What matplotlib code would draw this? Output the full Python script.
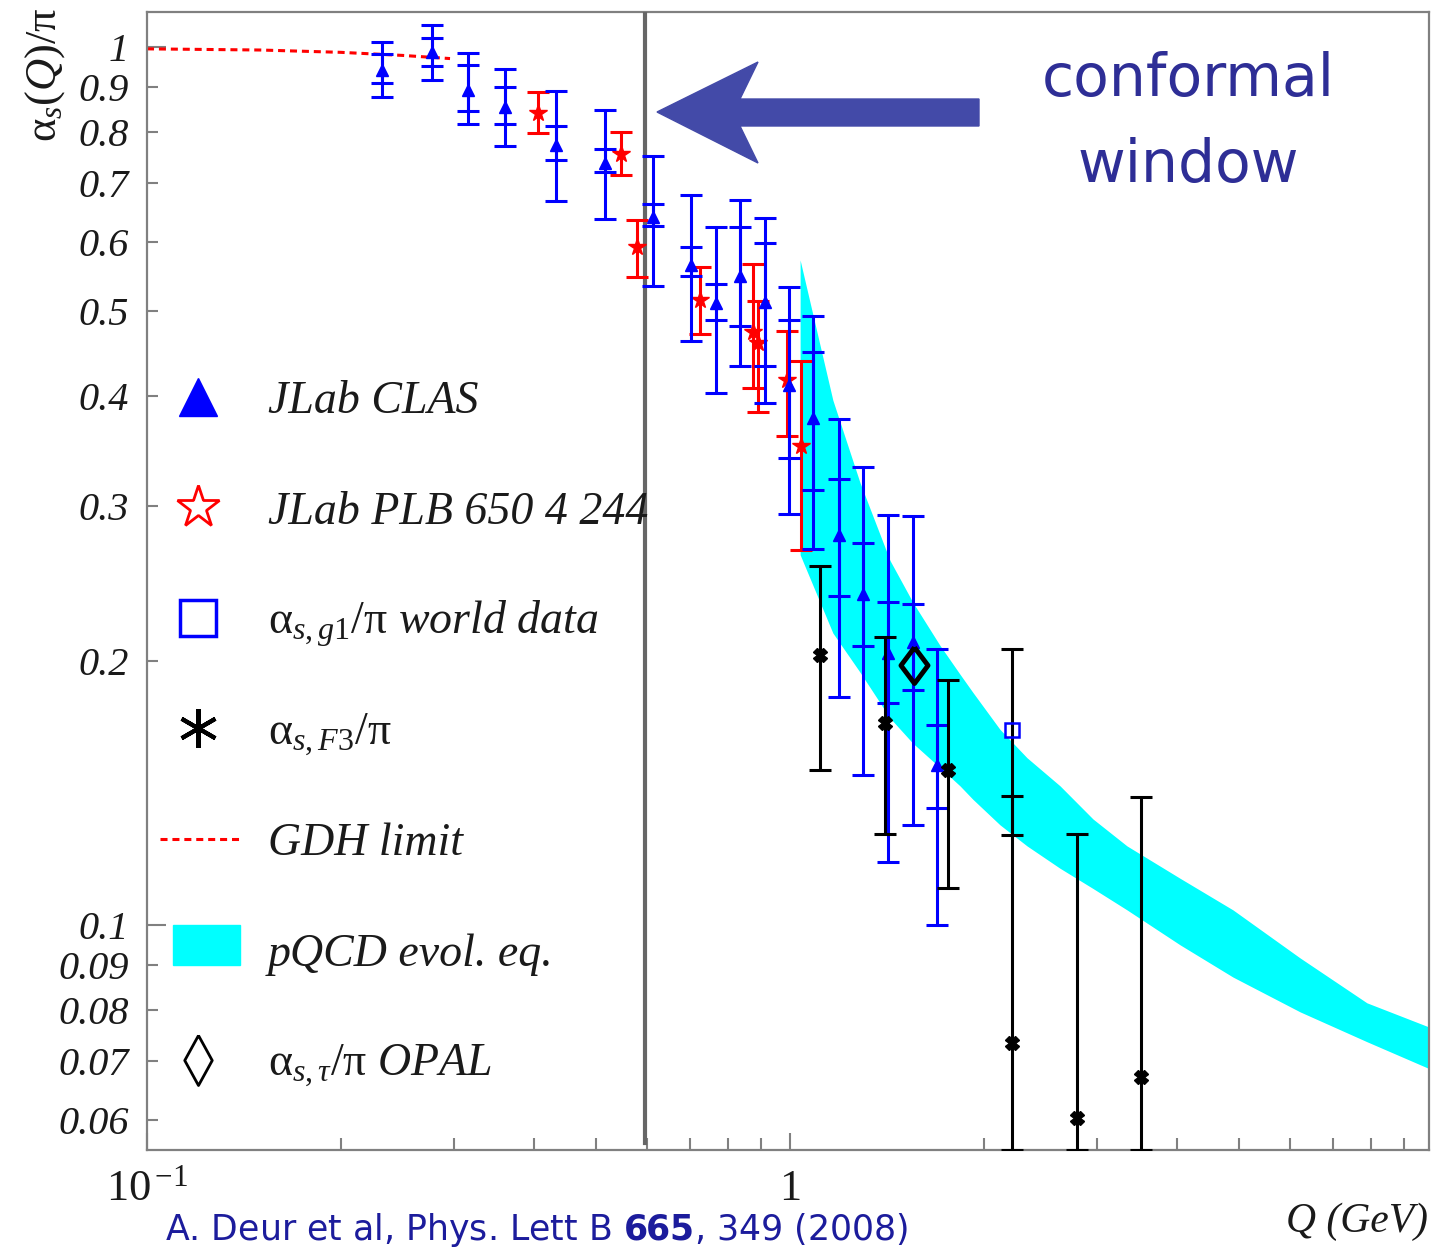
import numpy as np
import matplotlib
matplotlib.use("Agg")
import matplotlib.pyplot as plt
from matplotlib.lines import Line2D
from matplotlib.patches import Polygon, Rectangle
from matplotlib.ticker import NullFormatter

plt.rcParams["font.family"] = ["Liberation Serif", "DejaVu Sans"]
plt.rcParams["mathtext.fontset"] = "custom"
plt.rcParams["mathtext.rm"] = "Liberation Serif"
plt.rcParams["mathtext.it"] = "Liberation Serif:italic"
plt.rcParams["mathtext.bf"] = "DejaVu Sans:bold"

# JLab CLAS (blue triangles): value, total error range, stat error range
clas_q = [0.232, 0.277, 0.316, 0.361, 0.432, 0.516, 0.613, 0.701, 0.767,
          0.836, 0.915, 0.998, 1.087, 1.192, 1.300, 1.419, 1.552, 1.691]
clas_v = [0.941, 0.988, 0.893, 0.854, 0.774, 0.738, 0.641, 0.565, 0.511,
          0.548, 0.512, 0.412, 0.378, 0.278, 0.238, 0.204, 0.210, 0.152]
clas_tot_lo = [0.876, 0.916, 0.817, 0.772, 0.668, 0.637, 0.534, 0.462, 0.403,
               0.433, 0.393, 0.294, 0.268, 0.182, 0.148, 0.118, 0.130, 0.100]
clas_tot_hi = [1.012, 1.059, 0.984, 0.943, 0.890, 0.848, 0.752, 0.678, 0.623,
               0.670, 0.638, 0.533, 0.494, 0.377, 0.332, 0.293, 0.292, 0.206]
clas_stat_lo = [0.909, 0.952, 0.846, 0.817, 0.743, 0.720, 0.625, 0.548, 0.488,
                0.481, 0.433, 0.340, 0.313, 0.237, 0.208, 0.179, 0.185, 0.136]
clas_stat_hi = [0.981, 1.023, 0.954, 0.900, 0.813, 0.765, 0.662, 0.591, 0.537,
                0.623, 0.598, 0.488, 0.449, 0.322, 0.272, 0.233, 0.232, 0.169]

# JLab PLB 650 4 244 (red stars)
plb_q = [0.405, 0.546, 0.578, 0.725, 0.876, 0.892, 0.988, 1.039]
plb_v = [0.842, 0.755, 0.591, 0.515, 0.474, 0.460, 0.417, 0.351]
plb_lo = [0.798, 0.714, 0.547, 0.471, 0.409, 0.384, 0.360, 0.267]
plb_hi = [0.888, 0.800, 0.635, 0.562, 0.566, 0.513, 0.475, 0.439]

# alpha_s,F3 (black)
f3_q = [1.113, 1.405, 1.763, 2.212, 2.792, 3.511]
f3_v = [0.203, 0.170, 0.150, 0.0733, 0.0603, 0.0671]
f3_lo = [0.150, 0.127, 0.110, 0.0554, 0.0554, 0.0554]
f3_hi = [0.256, 0.213, 0.190, 0.206, 0.127, 0.140]
f3_extra_q = [2.212]
f3_extra_lo = [0.1266]
f3_extra_hi = [0.1401]

# world data g1 (blue square) and OPAL tau (diamond)
world_q = [2.212]
world_v = [0.1668]
opal_q = [1.559]
opal_v = [0.1977]

# GDH limit
gdh_q = [0.1, 0.15, 0.2, 0.25, 0.296]
gdh_v = [0.995, 0.992, 0.986, 0.978, 0.970]

# pQCD band
band_q = [1.037, 1.166, 1.285, 1.431, 1.553, 1.712, 1.838, 1.925, 2.121,
          2.337, 2.630, 2.960, 3.343, 4.042, 4.886, 6.212, 7.894, 9.858]
band_hi = [0.572, 0.396, 0.319, 0.260, 0.233, 0.208, 0.193, 0.184, 0.167,
           0.155, 0.144, 0.132, 0.123, 0.113, 0.104, 0.0917, 0.0815, 0.0765]
band_lo = [0.264, 0.215, 0.194, 0.172, 0.161, 0.151, 0.144, 0.139, 0.130,
           0.123, 0.116, 0.110, 0.104, 0.0949, 0.0872, 0.0796, 0.0736, 0.0686]

conformal_q = 0.595

y_major = [0.1, 1]
y_major_labels = ["0.1", "1"]
y_minor = [0.06, 0.07, 0.08, 0.09, 0.2, 0.3, 0.4, 0.5, 0.6, 0.7, 0.8, 0.9]
y_minor_labels = ["0.06", "0.07", "0.08", "0.09", "0.2", "0.3", "0.4", "0.5",
                  "0.6", "0.7", "0.8", "0.9"]
x_major = [0.1, 1]
x_major_labels = [r"$\mathit{10}^{\,\mathit{-1}}$", r"$\mathit{1}$"]
x_minor = [0.2, 0.3, 0.4, 0.5, 0.6, 0.7, 0.8, 0.9, 2, 3, 4, 5, 6, 7, 8, 9]

legend_labels = ["JLab CLAS", "JLab PLB 650 4 244",
                 r"$\mathrm{α}_{s,g1}/\mathrm{π}$ world data",
                 r"$\mathrm{α}_{s,F3}/\mathrm{π}$",
                 "GDH limit", "pQCD evol. eq.",
                 r"$\mathrm{α}_{s,τ}/\mathrm{π}$ OPAL"]

W, H = 1435, 1249


def fp(x, y):
    # figure pixel -> figure fraction
    return x / W, 1 - y / H


def err(v, lo, hi):
    v = np.array(v)
    return [v - np.array(lo), np.array(hi) - v]


fig = plt.figure(figsize=(W / 100, H / 100), dpi=100)
ax = fig.add_axes([147 / W, 1 - 1150 / H, 1282 / W, 1138 / H])
ax.set_xscale("log")
ax.set_yscale("log")

ax.fill_between(band_q, band_lo, band_hi, color="#00ffff", lw=0, zorder=1)
ax.plot(gdh_q, gdh_v, color="red", lw=2.2, ls=(0, (2.3, 1.6)), zorder=2)
ax.axvline(conformal_q, ymin=0.006, color="#666666", lw=3, zorder=3)

eb = dict(elinewidth=2.2, capsize=8, capthick=2.2)
ax.errorbar(clas_q, clas_v, yerr=err(clas_v, clas_tot_lo, clas_tot_hi),
            fmt="^", color="blue", ms=8.5, zorder=5, **eb)
ax.errorbar(clas_q, clas_v, yerr=err(clas_v, clas_stat_lo, clas_stat_hi),
            fmt="none", ecolor="blue", zorder=5, **eb)
ax.errorbar(plb_q, plb_v, yerr=err(plb_v, plb_lo, plb_hi),
            fmt="*", color="red", ms=13, zorder=4, **eb)
ax.errorbar(f3_q, f3_v, yerr=err(f3_v, f3_lo, f3_hi),
            fmt="X", color="black", ms=10, zorder=6, **eb)
mid = [(a + b) / 2 for a, b in zip(f3_extra_lo, f3_extra_hi)]
ax.errorbar(f3_extra_q, mid, yerr=err(mid, f3_extra_lo, f3_extra_hi),
            fmt="none", ecolor="black", zorder=6, **eb)
ax.plot(world_q, world_v, "s", ms=10, mfc="none", mec="blue", mew=1.8, zorder=7)
diamond = [(0, 1), (0.75, 0), (0, -1), (-0.75, 0), (0, 1)]
ax.plot(opal_q, opal_v, marker=diamond, ls="none", ms=26, mfc="none",
        mec="black", mew=3.5, zorder=7)

ax.set_xlim(0.1, 9.86)
ax.set_ylim(0.0554, 1.096)

ax.set_yticks(y_major, y_major_labels, fontstyle="italic")
ax.set_yticks(y_minor, y_minor_labels, minor=True, fontstyle="italic")
ax.set_xticks(x_major, x_major_labels)
ax.set_xticks(x_minor, minor=True)
ax.xaxis.set_minor_formatter(NullFormatter())
ax.tick_params(axis="both", which="both", direction="in", color="#808080",
               width=1.5, labelcolor="#1a1a1a", top=False, right=False)
ax.tick_params(axis="y", which="major", length=14, labelsize=29, pad=13)
ax.tick_params(axis="y", which="minor", length=8, labelsize=29, pad=13)
ax.tick_params(axis="x", which="major", length=12, labelsize=32, pad=14)
ax.tick_params(axis="x", which="minor", length=9)
for s in ax.spines.values():
    s.set_color("#808080")
    s.set_linewidth(1.6)

# axis labels
fig.text(*fp(45, 75), r"$\mathrm{α}_s(Q)/\mathrm{π}$", rotation=90,
         fontsize=32, ha="center", va="center", color="#1a1a1a")
fig.text(*fp(1428, 1232), "Q (GeV)", fontsize=30, fontstyle="italic",
         ha="right", va="baseline", color="#1a1a1a")

# legend drawn inside the frame
for k, label in enumerate(legend_labels):
    y = 397 + 110.5 * k
    fig.text(*fp(268, y + 16), label, fontsize=33, fontstyle="italic",
             va="baseline", color="#1a1a1a")
    mx, my = fp(198, y)
    if k == 0:
        fig.add_artist(Line2D([mx], [my], marker="^", ms=27, color="blue"))
    elif k == 1:
        fig.add_artist(Line2D([mx], [my], marker="*", ms=32, mfc="none",
                              mec="red", mew=2))
    elif k == 2:
        fig.add_artist(Line2D([mx], [my], marker="s", ms=26, mfc="none",
                              mec="blue", mew=2.5))
    elif k == 3:
        fig.add_artist(Line2D([mx], [my], marker=(6, 2, 0), ms=28,
                              color="black", mew=3))
    elif k == 4:
        x0, y0 = fp(160, y)
        x1, _ = fp(240, y)
        fig.add_artist(Line2D([x0, x1], [y0, y0], color="red", lw=2.2,
                              ls=(0, (2.3, 1.6))))
    elif k == 5:
        fig.add_artist(Rectangle(fp(173, 965), 67 / W, 40 / H,
                                 transform=fig.transFigure, color="#00ffff"))
    else:
        fig.add_artist(Line2D([mx], [my], marker=[(0, 1), (0.55, 0), (0, -1),
                                                  (-0.55, 0), (0, 1)],
                              ms=36, mfc="none", mec="black", mew=2))

# conformal window annotation
arrow_px = [(657, 112), (758, 62), (740, 99), (979, 99), (979, 126),
            (740, 126), (758, 163)]
fig.add_artist(Polygon([fp(x, y) for x, y in arrow_px], closed=True,
                       transform=fig.transFigure, color="#434aa8"))
fig.text(*fp(1188, 96), "conformal", fontsize=42, family="DejaVu Sans",
         ha="center", va="baseline", color="#2e2e96")
fig.text(*fp(1188, 182), "window", fontsize=42, family="DejaVu Sans",
         ha="center", va="baseline", color="#2e2e96")

fig.text(*fp(165, 1240), r"A. Deur et al, Phys. Lett B $\mathbf{665}$, 349 (2008)",
         fontsize=25, family="DejaVu Sans", ha="left", va="baseline",
         color="#1c1c9c")

fig.savefig("out.png", dpi=100)
